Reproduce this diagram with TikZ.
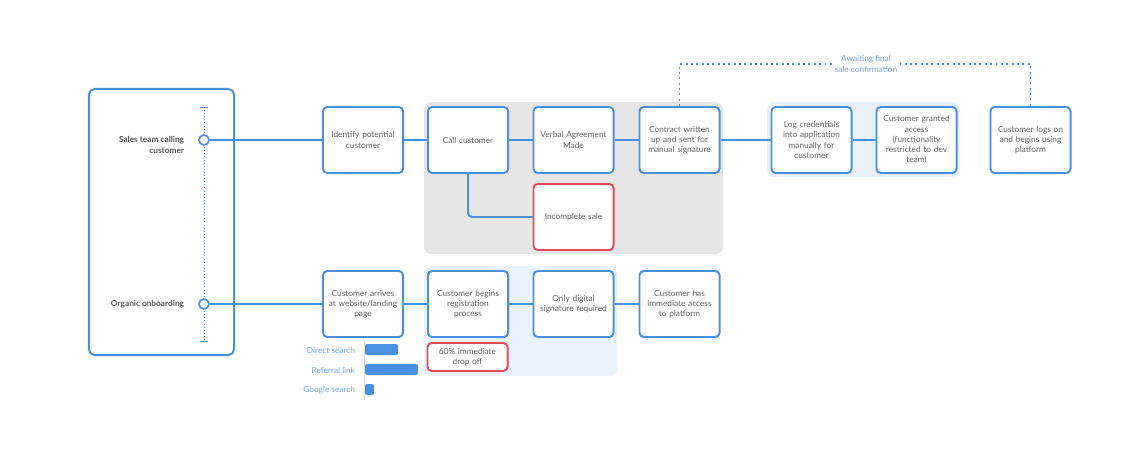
\documentclass[tikz,border=0pt]{standalone}
\usepackage{fontspec}
\setmainfont{Lato}
\definecolor{flowblue}{HTML}{4A90E2}
\definecolor{flowred}{HTML}{E54B5A}
\definecolor{flowgray}{HTML}{E6E6E6}
\definecolor{flowpale}{HTML}{EAF2FD}
\definecolor{flowtext}{HTML}{666666}
\definecolor{flowlabel}{HTML}{6FA8EC}
\newcommand{\boxcolor}{flowblue}
\newcommand{\lw}{1.4pt}
\newcommand{\boxfont}{\fontsize{5.9}{7.3}\selectfont}

\begin{document}
\begin{tikzpicture}[x=0.025cm, y=-0.025cm,
  stepbox/.style={draw=\boxcolor, line width=\lw, rounded corners=3pt, fill=white,
    minimum width=2cm, minimum height=1.65cm, text width=1.8cm, align=center,
    text=flowtext, font=\boxfont, inner sep=0pt},
  failbox/.style={stepbox, draw=flowred},
  link/.style={draw=\boxcolor, line width=\lw},
  waitline/.style={draw=\boxcolor, line width=\lw, dash pattern=on 1.4pt off 2.4pt},
  lanelabel/.style={anchor=east, align=right, text=flowtext!85!black, font=\bfseries\boxfont},
  barlabel/.style={anchor=east, text=flowlabel, font=\boxfont},
  dot/.style={circle, draw=\boxcolor, line width=1.2pt, fill=white, minimum size=0.25cm, inner sep=0pt}]
\useasboundingbox (0,0) rectangle (1137,459);
%regions
\fill[flowgray, rounded corners=5pt] (424,102) rectangle (723,254);
\fill[flowpale, rounded corners=5pt] (767,102) rectangle (960,177);
\fill[flowpale, rounded corners=5pt] (424,266) rectangle (617,376);
%left panel
\node[draw=\boxcolor, line width=\lw, rounded corners=4pt, minimum width=3.625cm, minimum height=6.65cm] (panel) at (161.5,222) {};
\coordinate (ttop) at (204,107);
\coordinate (tbot) at (204,341);
\draw[\boxcolor, line width=0.6pt, dash pattern=on 0.6pt off 1.6pt] (ttop) -- (tbot);
\draw[\boxcolor, line width=0.6pt] (ttop) ++(-4,0) -- ++(8,0);
\draw[\boxcolor, line width=0.6pt] (tbot) ++(-4,0) -- ++(8,0);
\node[dot] (sales) at (204,140) {};
\node[dot] (organic) at (204,304) {};
\node[lanelabel] (saleslabel) at (189,145) {Sales team calling\\customer};
\node[lanelabel] (organiclabel) at (189,304) {Organic onboarding};
%sales row
\node[stepbox] (ident) at (363,140) {Identify potential\\customer};
\node[stepbox] (call) at (468,140) {Call customer};
\node[stepbox] (verbal) at (573.5,140) {Verbal Agreement\\Made};
\node[stepbox] (contract) at (679.5,140) {Contract written\\up and sent for\\manual signature};
\node[failbox] (incomplete) at (573.5,217) {Incomplete sale};
\node[stepbox] (logcred) at (811.5,140) {Log credentials\\into application\\manually for\\customer};
\node[stepbox] (granted) at (916.5,140) {Customer granted\\access\\(functionality\\restricted to dev\\team)};
\node[stepbox] (logson) at (1030.5,140) {Customer logs on\\and begins using\\platform};
%organic row
\node[stepbox] (arrives) at (363,304) {Customer arrives\\at website/landing\\page};
\node[stepbox] (regist) at (468,304) {Customer begins\\registration\\process};
\node[stepbox] (digital) at (573.5,304) {Only digital\\signature required};
\node[stepbox] (immed) at (679.5,304) {Customer has\\immediate access\\to platform};
\node[failbox, minimum height=0.7cm] (dropoff) at (467.5,357) {60\% immediate\\drop off};
%connectors
\draw[link] (sales) -- (ident);
\draw[link] (ident) -- (call);
\draw[link] (call) -- (verbal);
\draw[link] (verbal) -- (contract);
\draw[link] (contract) -- (logcred);
\draw[link] (logcred) -- (granted);
\draw[link, rounded corners=3pt] (call.south) |- (incomplete.west);
\draw[link] (organic) -- (arrives);
\draw[link] (arrives) -- (regist);
\draw[link] (regist) -- (digital);
\draw[link] (digital) -- (immed);
%awaiting
\coordinate (awl) at (679.5,64);
\coordinate (awr) at (1030.5,64);
\draw[waitline] (contract.north) -- (awl) -- (awr) -- (logson.north);
\node[fill=white, align=center, text=flowlabel, font=\boxfont, inner sep=2pt] (await) at (866,64) {Awaiting final\\sale confirmation};
%bars
\draw[black!15, line width=0.5pt] (364,342) -- (364,400);
\fill[\boxcolor, rounded corners=1.5pt] (365,344) rectangle (398,355);
\fill[\boxcolor, rounded corners=1.5pt] (365,364) rectangle (418,375);
\fill[\boxcolor, rounded corners=1.5pt] (365,384) rectangle (374,395);
\node[barlabel] (direct) at (360,350) {Direct search};
\node[barlabel] (referral) at (360,370) {Referral link};
\node[barlabel] (google) at (360,390) {Google search};
\end{tikzpicture}
\end{document}
